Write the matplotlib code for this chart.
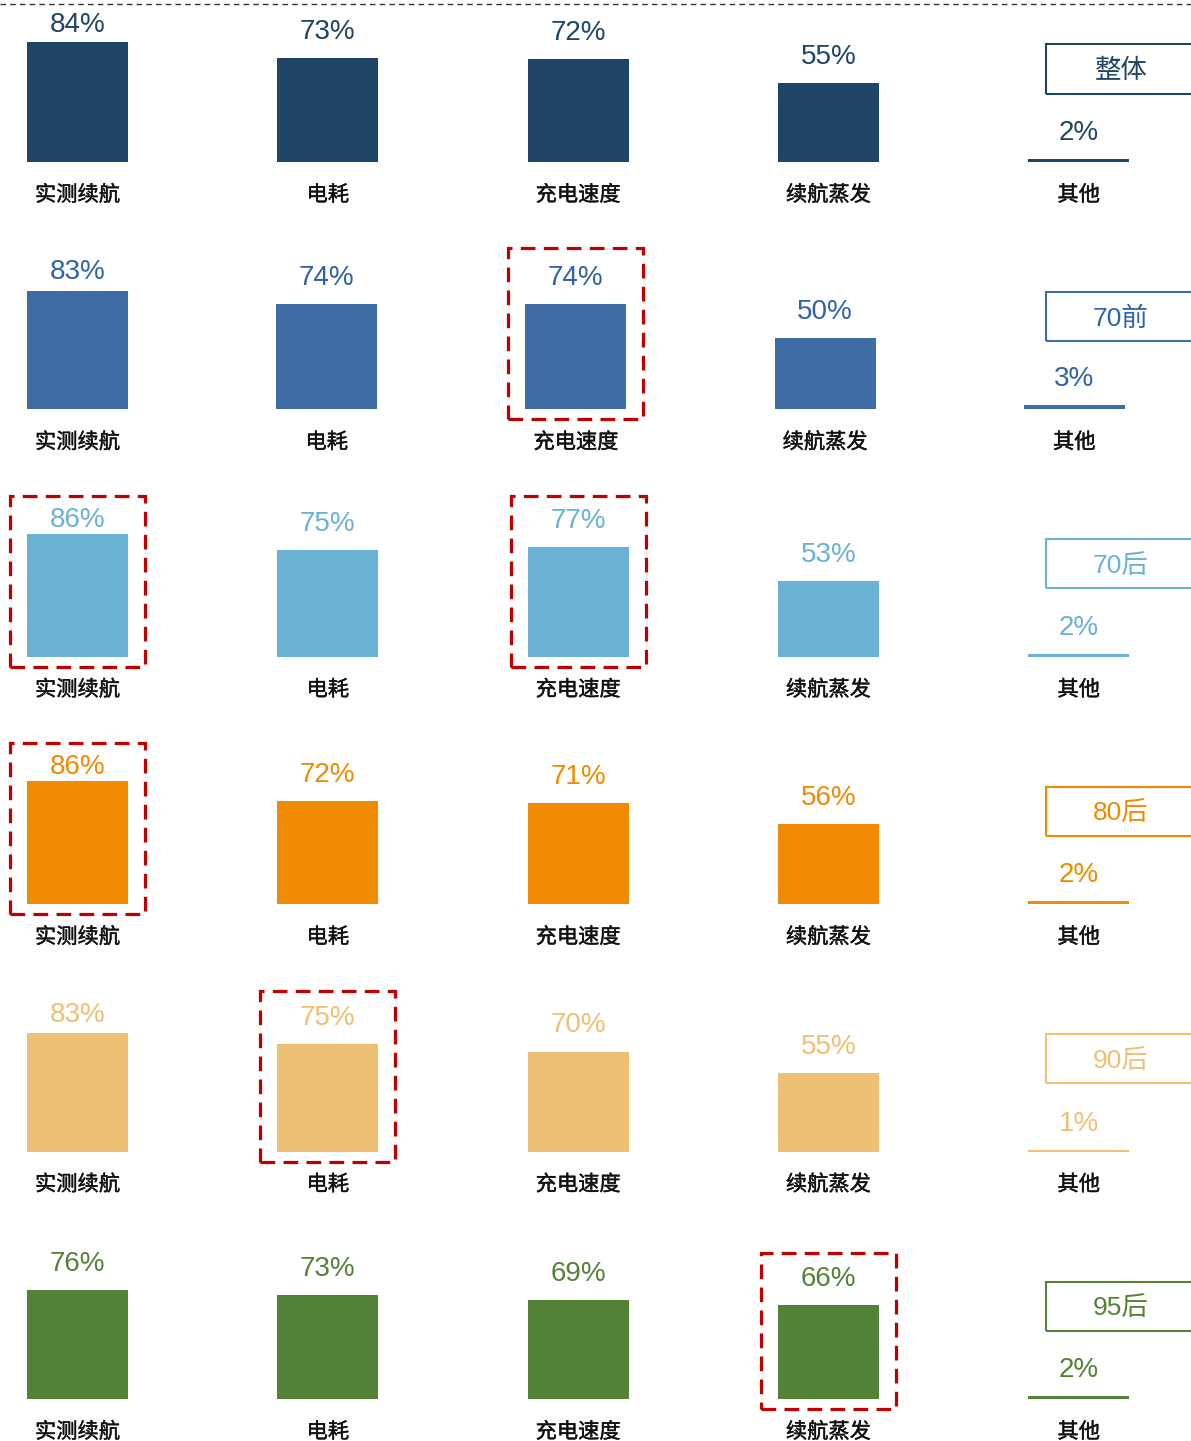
import matplotlib
matplotlib.use("Agg")
import matplotlib.pyplot as plt
import matplotlib.patheffects as pe
from matplotlib.patches import Rectangle
from matplotlib.lines import Line2D

categories = ["实测续航", "电耗", "充电速度", "续航蒸发", "其他"]
groups = ["整体", "70前", "70后", "80后", "90后", "95后"]

overall = [84, 73, 72, 55, 2]
pre_70 = [83, 74, 74, 50, 3]
post_70 = [86, 75, 77, 53, 2]
post_80 = [86, 72, 71, 56, 2]
post_90 = [83, 75, 70, 55, 1]
post_95 = [76, 73, 69, 66, 2]
rows = [overall, pre_70, post_70, post_80, post_90, post_95]

# (row, column) cells marked with a red dashed frame
highlights = [(1, 2), (2, 0), (2, 2), (3, 0), (4, 1), (5, 3)]

bar_colors = ["#1F4465", "#3E6DA3", "#6BB1D4", "#F08A00", "#EEC073", "#538135"]
text_colors = ["#1F4465", "#2F62AA", "#6BB1D4", "#F08A00", "#EEC073", "#538135"]

W, H = 1191, 1441
SCALE = 1.43          # pixels per percentage point
X0 = 77.5             # centre of first column, px
spacings = [250.3, 249.2, 250.3, 250.3, 250.3, 250.3]
LATIN_CJK = ["Liberation Sans", "Noto Sans CJK SC"]
semi_bold = [pe.withStroke(linewidth=0.3, foreground="#111111")]

fig = plt.figure(figsize=(W / 100, H / 100), dpi=100)

for r, values in enumerate(rows):
    sp = spacings[r]
    bottom_px = 162 + 247.4 * r
    y_lo, y_hi = -40, 120
    ax_bottom = H - (bottom_px - y_lo * SCALE)
    ax_height = (y_hi - y_lo) * SCALE
    ax = fig.add_axes([0, ax_bottom / H, 1, ax_height / H])
    ax.set_xlim(-X0 / sp, (W - X0) / sp)
    ax.set_ylim(y_lo, y_hi)
    ax.axis("off")

    xs = list(range(len(categories)))
    ax.bar(xs, values, width=101 / sp, color=bar_colors[r], align="center")

    for x, v, cat in zip(xs, values, categories):
        label_y = min(v + 26 / SCALE, 137 / SCALE) if x < 4 else v + 26 / SCALE
        ax.text(x, label_y, f"{v}%", ha="center", va="center", fontsize=20,
                color=text_colors[r], family=LATIN_CJK)
        ax.text(x, -33 / SCALE, cat, ha="center", va="center", fontsize=15.3,
                color="#111111", family="Noto Sans CJK SC", path_effects=semi_bold)

    # group name box beside the "其他" column (fixed pixel position)
    to_x = lambda px: (px - X0) / sp
    box = Rectangle((to_x(1046), (93 - 24.5) / SCALE), 160 / sp, 49 / SCALE,
                    fill=False, edgecolor=bar_colors[r], linewidth=1.5, clip_on=False)
    ax.add_patch(box)
    ax.text(to_x(1121), 91 / SCALE, groups[r], ha="center", va="center", fontsize=19,
            color=text_colors[r], family=LATIN_CJK)

    for hr, hc in highlights:
        if hr != r:
            continue
        top = 146 if r == 5 else 161
        frame = Rectangle((hc - 67.5 / sp, -10 / SCALE), 135 / sp, (top + 10) / SCALE,
                          fill=False, edgecolor="#C00000", linewidth=2.3,
                          linestyle=(0, (4.6, 2.6)), clip_on=False)
        ax.add_patch(frame)

fig.add_artist(Line2D([0, 1], [1 - 4 / H, 1 - 4 / H], transform=fig.transFigure,
                      color="#333333", linewidth=1, dashes=(4, 3)))

fig.savefig("out.png", dpi=100)
